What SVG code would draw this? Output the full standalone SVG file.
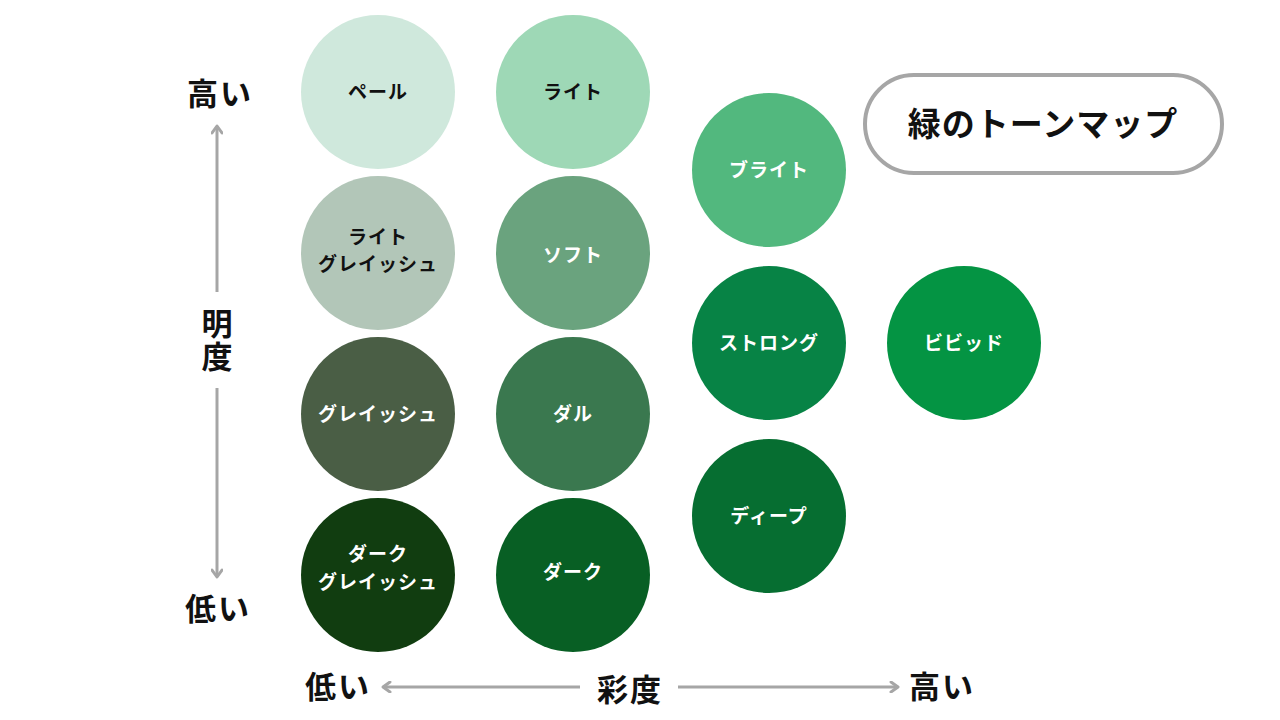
<svg xmlns="http://www.w3.org/2000/svg" width="1280" height="720" viewBox="0 0 1280 720">
<defs>
<style>
text{font-family:"Noto Sans CJK JP","Noto Sans",sans-serif;font-weight:bold;text-anchor:middle;dominant-baseline:central}
.n{font-size:19px;letter-spacing:1px}
.d{fill:#111}
.w{fill:#fff}
.ax{font-size:31px;fill:#111;letter-spacing:2px}
.ln{stroke:#a6a6a6;stroke-width:3;fill:none}
</style>
<marker id="ah" viewBox="0 0 12 12" refX="9" refY="6" markerWidth="12" markerHeight="12" markerUnits="userSpaceOnUse" orient="auto">
<path d="M2,1 L9,6 L2,11" fill="none" stroke="#a6a6a6" stroke-width="3" stroke-linecap="round" stroke-linejoin="round"/>
</marker>
</defs>
<rect width="1280" height="720" fill="#fff"/>
<g id="connectors">
<line class="ln" x1="217" y1="292" x2="217" y2="126" marker-end="url(#ah)"/>
<line class="ln" x1="217" y1="388" x2="217" y2="577" marker-end="url(#ah)"/>
<line class="ln" x1="580" y1="687" x2="383" y2="687" marker-end="url(#ah)"/>
<line class="ln" x1="678" y1="687" x2="898" y2="687" marker-end="url(#ah)"/>
</g>
<g id="axis-labels">
<text class="ax" x="220" y="91">高い</text>
<text class="ax" x="217" y="341" writing-mode="vertical-rl" style="letter-spacing:2px">明度</text>
<text class="ax" x="218" y="606">低い</text>
<text class="ax" x="338" y="684">低い</text>
<text class="ax" x="630" y="687">彩度</text>
<text class="ax" x="942" y="684">高い</text>
</g>
<g id="title">
<rect x="865" y="75" width="357" height="98" rx="49" fill="#fff" stroke="#a6a6a6" stroke-width="4"/>
<text x="1043" y="122" style="font-size:33px;fill:#111;letter-spacing:1px">緑のトーンマップ</text>
</g>
<g id="pale"><circle cx="378" cy="92" r="77" fill="#cfe8dc"/><text class="n d" x="378" y="90">ペール</text></g>
<g id="light"><circle cx="573" cy="92" r="77" fill="#9ed8b6"/><text class="n d" x="573" y="90">ライト</text></g>
<g id="light-grayish"><circle cx="378" cy="253" r="77" fill="#b2c6b8"/><text class="n d" x="378" y="235">ライト</text><text class="n d" x="378" y="262">グレイッシュ</text></g>
<g id="soft"><circle cx="573" cy="253" r="77" fill="#6aa37e"/><text class="n w" x="573" y="253">ソフト</text></g>
<g id="grayish"><circle cx="378" cy="414" r="77" fill="#4a5e45"/><text class="n w" x="378" y="412">グレイッシュ</text></g>
<g id="dull"><circle cx="573" cy="414" r="77" fill="#3a784f"/><text class="n w" x="573" y="412">ダル</text></g>
<g id="dark-grayish"><circle cx="378" cy="575" r="77" fill="#113d10"/><text class="n w" x="378" y="552">ダーク</text><text class="n w" x="378" y="580">グレイッシュ</text></g>
<g id="dark"><circle cx="573" cy="575" r="77" fill="#085f24"/><text class="n w" x="573" y="570">ダーク</text></g>
<g id="bright"><circle cx="769" cy="170" r="77" fill="#52b87e"/><text class="n w" x="769" y="168">ブライト</text></g>
<g id="strong"><circle cx="769" cy="343" r="77" fill="#078345"/><text class="n w" x="769" y="341">ストロング</text></g>
<g id="deep"><circle cx="769" cy="516" r="77" fill="#066e31"/><text class="n w" x="769" y="514">ディープ</text></g>
<g id="vivid"><circle cx="964" cy="343" r="77" fill="#049443"/><text class="n w" x="964" y="341">ビビッド</text></g>
</svg>
